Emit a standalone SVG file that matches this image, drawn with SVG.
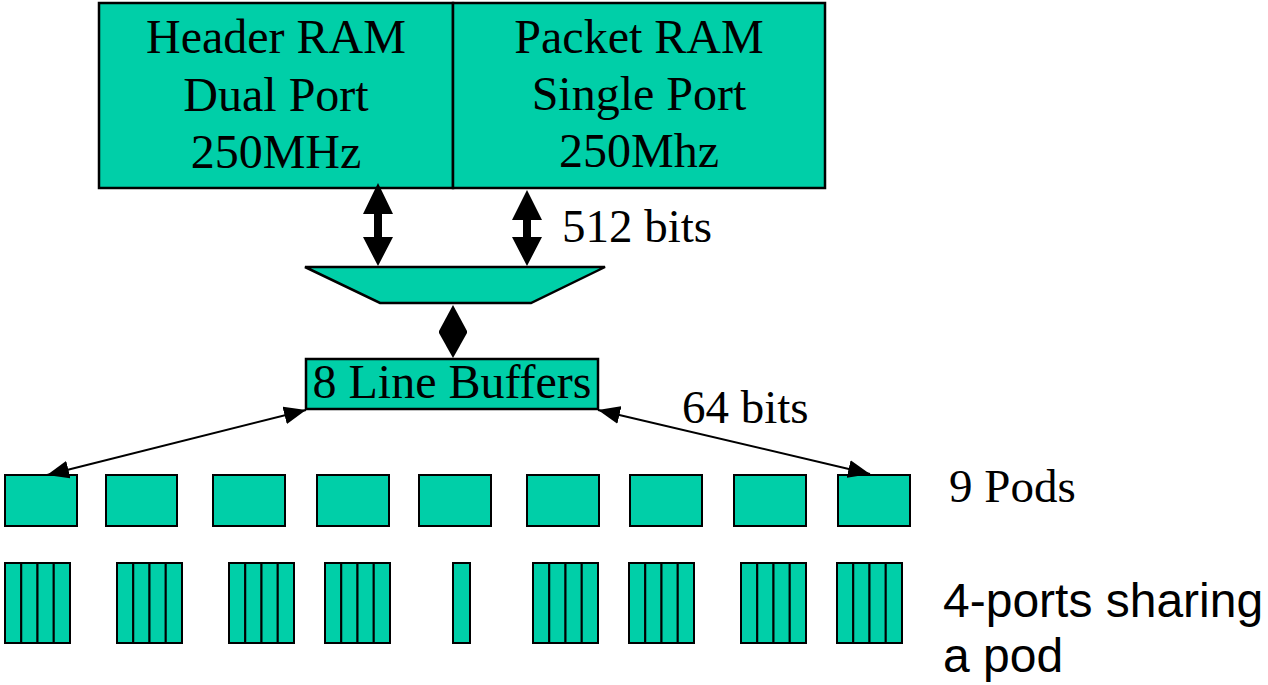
<svg xmlns="http://www.w3.org/2000/svg" width="1268" height="685" viewBox="0 0 1268 685">
<defs>
<style>
.box{fill:#00CFA8;stroke:#000;stroke-width:2.5}
.sm{fill:#00CFA8;stroke:#000;stroke-width:2}
.t{font-family:"Liberation Serif","Times New Roman",serif;font-size:48px;fill:#000}
.l{font-family:"Liberation Serif","Times New Roman",serif;font-size:47px;fill:#000}
.s{font-family:"Liberation Sans",Arial,sans-serif;font-size:48px;fill:#000}
.ln{stroke:#000;stroke-width:2;fill:none}
.ah{fill:#000}
</style>
<marker id="arr" viewBox="0 0 22 18" refX="22" refY="9" markerWidth="22" markerHeight="18" markerUnits="userSpaceOnUse" orient="auto-start-reverse">
<path d="M0,0 L22,9 L0,18 Z" class="ah"/>
</marker>
</defs>
<rect width="1268" height="685" fill="#fff"/>

<g id="header-ram">
<rect class="box" x="99" y="3" width="354" height="185"/>
<text class="t" x="276" y="53" text-anchor="middle">Header RAM</text>
<text class="t" x="276" y="111" text-anchor="middle">Dual Port</text>
<text class="t" x="276" y="168" text-anchor="middle">250MHz</text>
</g>
<g id="packet-ram">
<rect class="box" x="453" y="3" width="372" height="185"/>
<text class="t" x="639" y="53" text-anchor="middle">Packet RAM</text>
<text class="t" x="639" y="110" text-anchor="middle">Single Port</text>
<text class="t" x="639" y="167" text-anchor="middle">250Mhz</text>
</g>

<g id="mux">
<polygon class="box" points="305,267 605,267 531,303 380,303"/>
</g>

<g id="line-buffers">
<rect class="box" x="306" y="359" width="292" height="50"/>
<text class="t" x="452" y="398" text-anchor="middle">8 Line Buffers</text>
</g>

<g id="pods">
<rect class="sm" x="5" y="475" width="72" height="51"/>
<rect class="sm" x="106" y="475" width="71" height="51"/>
<rect class="sm" x="213" y="475" width="72" height="51"/>
<rect class="sm" x="317" y="475" width="72" height="51"/>
<rect class="sm" x="419" y="475" width="72" height="51"/>
<rect class="sm" x="527" y="475" width="72" height="51"/>
<rect class="sm" x="630" y="475" width="72" height="51"/>
<rect class="sm" x="734" y="475" width="72" height="51"/>
<rect class="sm" x="838" y="475" width="72" height="51"/>
</g>

<g id="ports">
<g id="ports-1"><rect class="sm" x="5" y="563" width="16.25" height="80"/><rect class="sm" x="21.25" y="563" width="16.25" height="80"/><rect class="sm" x="37.5" y="563" width="16.25" height="80"/><rect class="sm" x="53.75" y="563" width="16.25" height="80"/></g>
<g id="ports-2"><rect class="sm" x="117" y="563" width="16.25" height="80"/><rect class="sm" x="133.25" y="563" width="16.25" height="80"/><rect class="sm" x="149.5" y="563" width="16.25" height="80"/><rect class="sm" x="165.75" y="563" width="16.25" height="80"/></g>
<g id="ports-3"><rect class="sm" x="229" y="563" width="16.25" height="80"/><rect class="sm" x="245.25" y="563" width="16.25" height="80"/><rect class="sm" x="261.5" y="563" width="16.25" height="80"/><rect class="sm" x="277.75" y="563" width="16.25" height="80"/></g>
<g id="ports-4"><rect class="sm" x="325" y="563" width="16.25" height="80"/><rect class="sm" x="341.25" y="563" width="16.25" height="80"/><rect class="sm" x="357.5" y="563" width="16.25" height="80"/><rect class="sm" x="373.75" y="563" width="16.25" height="80"/></g>
<g id="ports-5"><rect class="sm" x="453" y="563" width="17" height="80"/></g>
<g id="ports-6"><rect class="sm" x="533" y="563" width="16.25" height="80"/><rect class="sm" x="549.25" y="563" width="16.25" height="80"/><rect class="sm" x="565.5" y="563" width="16.25" height="80"/><rect class="sm" x="581.75" y="563" width="16.25" height="80"/></g>
<g id="ports-7"><rect class="sm" x="629" y="563" width="16.25" height="80"/><rect class="sm" x="645.25" y="563" width="16.25" height="80"/><rect class="sm" x="661.5" y="563" width="16.25" height="80"/><rect class="sm" x="677.75" y="563" width="16.25" height="80"/></g>
<g id="ports-8"><rect class="sm" x="741" y="563" width="16.25" height="80"/><rect class="sm" x="757.25" y="563" width="16.25" height="80"/><rect class="sm" x="773.5" y="563" width="16.25" height="80"/><rect class="sm" x="789.75" y="563" width="16.25" height="80"/></g>
<g id="ports-9"><rect class="sm" x="837" y="563" width="16.25" height="80"/><rect class="sm" x="853.25" y="563" width="16.25" height="80"/><rect class="sm" x="869.5" y="563" width="16.25" height="80"/><rect class="sm" x="885.75" y="563" width="16.25" height="80"/></g>
</g>

<g id="connectors">
<polygon class="ah" points="378,183 393,214 382,214 382,237 393,237 378,266 363,237 374,237 374,214 363,214"/>
<polygon class="ah" points="527,190 542,220 531,220 531,237 542,237 527,266 512,237 523,237 523,220 512,220"/>
<polygon class="ah" points="453,305 467,331 467,333 453,358 439,333 439,331"/>
<line class="ln" x1="306" y1="410" x2="47" y2="475" marker-start="url(#arr)" marker-end="url(#arr)"/>
<line class="ln" x1="598" y1="410" x2="870" y2="474" marker-start="url(#arr)" marker-end="url(#arr)"/>
</g>

<g id="labels">
<text class="l" x="562" y="242">512 bits</text>
<text class="l" x="682" y="423">64 bits</text>
<text class="l" x="949" y="502">9 Pods</text>
<text class="s" x="943" y="617">4-ports sharing</text>
<text class="s" x="943" y="672">a pod</text>
</g>
</svg>
